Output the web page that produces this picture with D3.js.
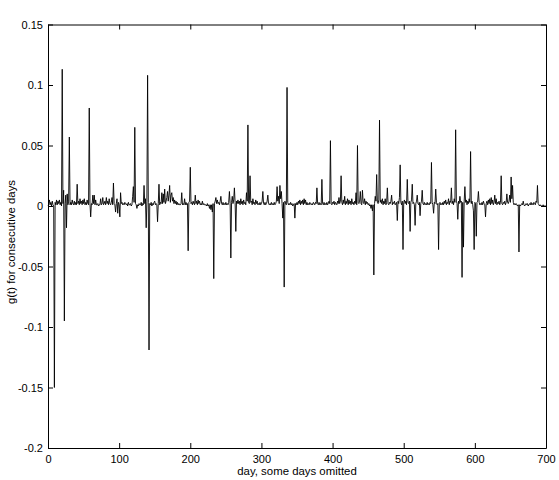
<!DOCTYPE html>
<html><head><meta charset="utf-8">
<script src="https://cdn.jsdelivr.net/npm/d3@7"></script>
<style>body{margin:0;background:#fff}svg{display:block}</style>
</head><body>
<svg id="chart" width="559" height="480"></svg>
<script>
// g(t) for consecutive days, one value per day, day 0 .. 700
const gValues = [
 0, 0.001, 0.005, 0.001, 0.003, 0, 0.004, 0.001, 0, -0.150,
 0.003, 0.001, 0.005, 0.001, 0.004, 0.002, 0.005, 0.001, 0.003, 0,
 0.113, 0.002, 0.013, -0.095, 0.002, 0.009, -0.018, 0.010, 0.001, 0.004,
 0.057, 0.001, 0.003, 0.001, 0.005, 0.002, 0.001, 0.004, 0.001, 0.003,
 0.001, 0.018, 0.002, 0.004, 0.001, 0.006, 0.002, 0.004, 0.001, 0.005,
 0.002, 0.006, 0.001, 0.003, 0.001, 0.005, 0.002, 0.001, 0.081, 0.002,
 -0.009, 0.002, 0.001, 0.009, 0.002, 0.009, 0.001, 0.005, 0.001, 0.001,
 0.002, 0, 0.001, 0.001, 0.006, 0.001, 0.002, 0.007, 0.001, 0.002,
 0.004, 0.001, 0.007, 0.002, 0.004, 0.001, 0.006, 0.002, 0.001, 0.003,
 0.007, 0.001, 0.019, 0.002, 0.001, -0.005, 0.002, 0.006, -0.006, 0.003,
 0.001, -0.009, 0.011, 0.002, 0.003, 0.001, 0.002, 0.001, 0.003, 0.002,
 0.001, 0.002, 0, 0.003, 0.001, 0.001, 0.002, 0, 0.001, 0.008,
 0.016, 0.003, 0.065, 0.002, 0.001, -0.002, 0.001, 0, 0.002, 0.001,
 0.001, 0.003, 0, 0.002, 0.001, 0.017, 0.002, 0.006, -0.018, 0.004,
 0.108, 0.003, -0.119, 0.002, 0.001, 0.003, 0, 0.002, 0.001, 0.003,
 0.004, 0.001, 0.002, 0.001, -0.013, 0.002, 0.018, 0.001, 0.003, 0.002,
 0.011, 0.002, 0.010, 0.003, 0.014, 0.002, 0.004, 0.007, 0.012, 0.004,
 0.009, 0.017, 0.003, 0.009, 0.011, 0.004, 0.007, 0.002, 0.005, 0.002,
 0.004, 0.001, 0.003, 0.001, 0.002, 0.001, 0.001, 0.002, 0.011, 0.001,
 0.002, 0.001, 0.006, 0.001, 0.003, 0.001, 0.002, -0.037, 0.003, 0.004,
 0.032, 0.002, 0.003, 0.001, 0.004, 0.002, 0.001, 0.009, 0.002, 0.004,
 0.001, 0.005, 0.002, 0.004, 0.001, 0.002, 0.001, 0.004, 0.001, 0.002,
 0.001, 0.001, 0.001, 0, 0.002, 0, 0.001, -0.002, 0.001, -0.003,
 0.001, -0.005, 0.002, -0.060, 0.002, 0.004, 0.007, 0.002, 0.005, 0.002,
 0.003, 0.001, 0.004, 0.008, 0.002, 0.001, 0.003, 0.001, 0.002, 0.001,
 0.003, 0.001, 0.002, 0.001, 0.003, 0.012, 0.002, -0.043, 0.003, 0.008,
 0.002, 0.005, 0.015, 0.003, -0.021, 0.004, 0.002, 0.005, 0.002, 0.004,
 0.001, 0.006, 0.002, 0.004, 0.001, 0.005, 0.002, 0.003, 0.001, 0.011,
 0.004, 0.067, 0.003, 0.002, 0.025, 0.003, 0.004, 0.001, 0.006, 0.002,
 0.003, 0.001, 0.005, 0.002, 0.004, 0.001, 0.002, 0.001, 0.003, 0.001,
 0.002, 0.004, 0.012, 0.002, 0.001, 0.003, 0.001, 0.002, 0.004, 0.009,
 0.002, 0.001, 0.002, 0.001, 0.003, 0.001, 0.002, 0.001, 0.003, 0.001,
 0.002, 0.004, 0.016, 0.004, 0.008, 0.002, 0.017, 0.006, 0.012, 0.002,
 -0.010, 0.003, -0.067, 0.004, 0.002, 0.001, 0.098, 0.003, 0.001, 0.002,
 0.001, 0.003, 0.001, 0.002, 0, 0.001, 0.002, -0.010, 0.002, 0.001,
 0.003, 0.001, 0.004, 0.002, 0.005, 0.001, 0.004, 0.002, 0.005, 0.001,
 0.006, 0.002, 0.005, 0.001, 0.003, 0.001, 0.002, 0.001, 0.003, 0.002,
 0.001, 0.002, 0.001, 0.003, 0.002, 0.001, 0.003, 0.002, 0.015, 0.002,
 0.001, 0.003, 0.001, 0.002, 0.001, 0.022, 0.002, 0.001, 0.003, 0.001,
 0.002, 0.001, 0.003, 0.001, 0.002, 0.004, 0.002, 0.054, 0.002, 0.001,
 0.003, 0.002, 0.004, 0.001, 0.003, 0.002, 0.001, 0.004, 0.002, 0.007,
 0.002, 0.004, 0.025, 0.003, 0.001, 0.005, 0.002, 0.008, 0.001, 0.004,
 0.002, 0.006, 0.001, 0.005, 0.002, 0.004, 0.001, 0.006, 0.002, 0.003,
 0.001, 0.004, 0.002, 0.011, 0.001, 0.050, 0.003, 0.002, 0.004, 0.012,
 0.002, 0.001, 0.013, 0.003, 0.002, 0.006, 0.001, 0.004, 0.002, 0.003,
 0.001, 0.002, 0, 0.001, -0.002, 0.001, -0.004, 0.001, -0.057, 0.002,
 0.008, 0.004, 0.026, 0.003, 0.002, 0.005, 0.071, 0.003, 0.005, 0.002,
 0.006, 0.001, 0.004, 0.002, 0.006, 0.001, 0.003, 0.015, 0.002, 0.001,
 0.003, 0.002, 0.004, 0.009, 0.001, 0.003, 0.002, 0.004, 0.001, 0.002,
 0.003, -0.012, 0.004, 0.002, 0.007, 0.034, 0.003, 0.001, 0.004, -0.036,
 0.003, 0.005, 0.002, 0.004, 0.001, 0.022, 0.003, 0.002, 0.004, -0.021,
 0.003, 0.005, 0.018, 0.002, 0.003, 0.001, -0.016, 0.002, 0.004, 0.009,
 0.002, 0.001, 0.003, -0.008, 0.002, 0.004, 0.013, 0.002, 0.001, 0.003,
 0.001, 0.002, 0.001, 0.003, 0.001, 0.002, 0.001, 0.003, 0.002, 0.036,
 0.003, 0.001, -0.006, 0.003, 0.002, 0.014, 0.003, 0.001, 0.002, -0.036,
 0.002, 0.003, 0.001, 0.002, 0.001, 0.003, 0.001, 0.004, 0.002, 0.005,
 0.001, 0.003, 0.002, 0.006, 0.001, 0.004, 0.003, 0.015, 0.002, 0.004,
 0.001, 0.006, 0.003, 0.063, 0.004, 0.002, -0.011, 0.004, 0.002, 0.008,
 0.003, 0.004, -0.059, 0.003, -0.034, 0.004, 0.016, 0.003, 0.005, 0.001,
 0.004, 0.002, 0.006, 0.003, 0.045, 0.002, 0.004, 0.001, -0.004, -0.036,
 0.003, 0.002, -0.025, 0.003, 0.004, 0.012, 0.003, 0.001, 0.002, 0.001,
 0.003, 0.001, 0.004, 0.002, 0.001, -0.009, 0.002, 0.004, 0.001, 0.005,
 0.002, 0.006, 0.001, 0.007, 0.002, 0.005, 0.001, 0.003, 0.009, 0.002,
 0.006, 0.001, 0.003, 0.002, 0.004, 0.001, 0.003, 0.025, 0.002, 0.001,
 0.003, 0.002, 0.004, 0.001, 0.003, 0.010, 0.003, 0.002, 0.004, 0.009,
 0.003, 0.024, 0.006, 0.017, 0.003, 0.001, 0.002, 0.001, 0.002, 0.001,
 0, 0.001, -0.038, 0.001, 0, 0.001, 0.002, 0.001, 0.004, 0.001,
 0, 0.001, 0.002, 0.001, 0.002, 0, 0.001, 0.002, 0.001, 0.003,
 0.001, 0.002, 0.001, 0.003, 0.002, 0.001, 0.004, 0.003, 0.017, 0.002,
 0.001, 0, 0.001, 0, 0, 0, 0.001, 0, 0, 0, 0
];
const xTicks = [0, 100, 200, 300, 400, 500, 600, 700];
const yTicks = [-0.2, -0.15, -0.1, -0.05, 0, 0.05, 0.1, 0.15];
const yTickLabels = ["-0.2", "-0.15", "-0.1", "-0.05", "0", "0.05", "0.1", "0.15"];
const xLabel = "day, some days omitted";
const yLabel = "g(t) for consecutive days";

const svg = d3.select("#chart");
const pLeft = 48, pRight = 546, pTop = 24.5, pBottom = 448;
const font = "'Liberation Sans', Arial, Helvetica, sans-serif";

const x = d3.scaleLinear().domain([0, 700]).range([pLeft, pRight]);
const y = d3.scaleLinear().domain([-0.2, 0.15]).range([pBottom, pTop]);

// data line
const line = d3.line().x((d, i) => x(i)).y(d => y(d));
svg.append("path")
  .datum(gValues)
  .attr("d", line)
  .attr("fill", "none")
  .attr("stroke", "#000")
  .attr("stroke-width", 0.9)
  .attr("stroke-linejoin", "miter");

// axes (MATLAB style box with inward ticks)
const tickLen = 5;
const axisBottom = d3.axisBottom(x).tickValues(xTicks).tickSizeInner(-tickLen).tickSizeOuter(0).tickPadding(7).tickFormat(d3.format("d"));
const axisTop = d3.axisTop(x).tickValues(xTicks).tickSizeInner(-tickLen).tickSizeOuter(0).tickFormat("");
const axisLeft = d3.axisLeft(y).tickValues(yTicks).tickSizeInner(-tickLen).tickSizeOuter(0).tickPadding(5)
  .tickFormat((d, i) => yTickLabels[i]);
const axisRight = d3.axisRight(y).tickValues(yTicks).tickSizeInner(-tickLen).tickSizeOuter(0).tickFormat("");

function styleAxis(g) {
  g.selectAll("path.domain").attr("stroke", "#000").attr("stroke-width", 1);
  g.selectAll(".tick line").attr("stroke", "#000").attr("stroke-width", 1);
  g.selectAll("text").attr("fill", "#000").style("font-family", font).style("font-size", "11px");
}
svg.append("g").attr("transform", `translate(0,${pBottom})`).call(axisBottom).call(styleAxis);
svg.append("g").attr("transform", `translate(0,${pTop})`).call(axisTop).call(styleAxis);
svg.append("g").attr("transform", `translate(${pLeft},0)`).call(axisLeft).call(styleAxis);
svg.append("g").attr("transform", `translate(${pRight},0)`).call(axisRight).call(styleAxis);

// labels
svg.append("text")
  .attr("x", 297).attr("y", 475)
  .attr("text-anchor", "middle")
  .style("font-family", font).style("font-size", "11.4px")
  .text(xLabel);
svg.append("text")
  .attr("transform", `translate(15,242) rotate(-90)`)
  .attr("text-anchor", "middle")
  .style("font-family", font).style("font-size", "11.4px")
  .text(yLabel);
</script>
</body></html>
